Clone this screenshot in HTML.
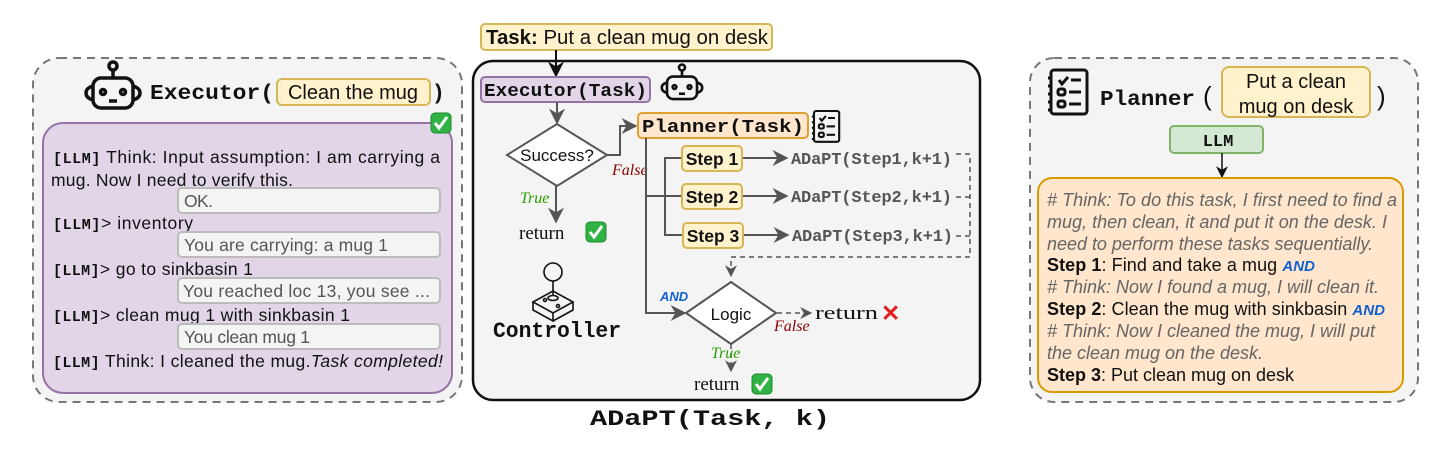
<!DOCTYPE html>
<html><head><meta charset="utf-8"><style>
html,body{margin:0;padding:0;background:#fff}
svg{display:block}
.m{font-family:"Liberation Mono",monospace;font-weight:bold}
.s{font-family:"Liberation Sans",sans-serif}
.sf{font-family:"Liberation Serif",serif}
</style></head><body>
<svg width="1456" height="454" viewBox="0 0 1456 454" xmlns="http://www.w3.org/2000/svg">
<defs>
<marker id="a" viewBox="0 0 10 10" refX="9" refY="5" markerWidth="8" markerHeight="8" orient="auto"><path d="M0,0 L10,5 L0,10 L3,5z" fill="#555"/></marker>
<marker id="ab" viewBox="0 0 10 10" refX="9" refY="5" markerWidth="8" markerHeight="8" orient="auto"><path d="M0,0 L10,5 L0,10 L3,5z" fill="#111"/></marker>
<g id="robot" fill="none" stroke="#111" stroke-width="3.5">
<circle cx="20" cy="-30" r="4"/><line x1="20" y1="-26" x2="20" y2="-18"/>
<rect x="0" y="-18" width="40" height="30" rx="8"/>
<path d="M0,-10 q-7,2 -7,7 q0,5 7,7"/><path d="M40,-10 q7,2 7,7 q0,5 -7,7"/>
<circle cx="10" cy="-4" r="2.5"/><circle cx="30" cy="-4" r="2.5"/>
<line x1="16" y1="5" x2="24" y2="5"/>
</g>
<g id="list" fill="none" stroke="#111" stroke-width="3">
<rect x="0" y="0" width="36" height="44" rx="3"/>
<path d="M8,10 l3,4 l6,-7 M20,10 h10"/>
<rect x="7" y="19" width="7" height="6" rx="2"/><line x1="18" y1="22" x2="30" y2="22"/>
<rect x="7" y="31" width="7" height="6" rx="2"/><line x1="18" y1="34" x2="30" y2="34"/>
<path d="M-3,8 h4 M-3,16 h4 M-3,24 h4 M-3,32 h4 M-3,40 h4"/>
</g>
<g id="ck"><rect x="0" y="0" width="20" height="20" rx="4" fill="#2fb344" stroke="#1d8a2f"/><path d="M4,10 l4,5 l8,-11" fill="none" stroke="#fff" stroke-width="3"/></g>
</defs>

<!-- LEFT PANEL -->
<rect x="33" y="58" width="429" height="344" rx="26" fill="#f4f4f4" stroke="#777" stroke-width="2" stroke-dasharray="8,6"/>
<use href="#robot" transform="translate(93,96)"/>
<text x="150" y="99" class="m" font-size="21" fill="#111" textLength="124" lengthAdjust="spacingAndGlyphs">Executor(</text>
<rect x="277" y="79" width="153" height="26" rx="5" fill="#fff2cc" stroke="#d6b656" stroke-width="2"/>
<text x="353" y="99" class="s" font-size="20" text-anchor="middle" fill="#111">Clean the mug</text>
<text x="432" y="99" class="m" font-size="21" fill="#111">)</text>
<rect x="43" y="123" width="409" height="270" rx="20" fill="#e1d5e7" stroke="#9673a6" stroke-width="2"/>
<use href="#ck" transform="translate(431,113)"/>
<g class="s" font-size="17.5" fill="#111" lengthAdjust="spacingAndGlyphs">
<text x="53" y="163" textLength="387"><tspan class="m" font-size="15">[LLM]</tspan> Think:  Input assumption: I am carrying a</text>
<text x="51" y="186" textLength="242">mug. Now I need to verify this.</text>
<text x="53" y="229" textLength="140"><tspan class="m" font-size="15">[LLM]</tspan>&gt; inventory</text>
<text x="53" y="275" textLength="200"><tspan class="m" font-size="15">[LLM]</tspan>&gt; go to sinkbasin 1</text>
<text x="53" y="321" textLength="297"><tspan class="m" font-size="15">[LLM]</tspan>&gt; clean mug 1 with sinkbasin 1</text>
<text x="53" y="367" textLength="390"><tspan class="m" font-size="15">[LLM]</tspan> Think: I cleaned the mug.<tspan font-style="italic">Task completed!</tspan></text>
</g>
<g fill="#f4f4f4" stroke="#bbb" stroke-width="2">
<rect x="178" y="188" width="262" height="25" rx="4"/>
<rect x="178" y="232" width="262" height="25" rx="4"/>
<rect x="178" y="278" width="262" height="25" rx="4"/>
<rect x="178" y="324" width="262" height="25" rx="4"/>
</g>
<g class="s" font-size="17.5" fill="#555" lengthAdjust="spacingAndGlyphs">
<text x="184" y="207" textLength="29">OK.</text>
<text x="184" y="251" textLength="204">You are carrying: a mug 1</text>
<text x="183" y="297" textLength="247">You reached loc 13, you see ...</text>
<text x="184" y="343" textLength="126">You clean mug 1</text>
</g>

<!-- MIDDLE -->
<rect x="473" y="61" width="507" height="339" rx="20" fill="#f4f4f4" stroke="#111" stroke-width="2.5"/>
<rect x="481" y="24" width="291" height="26" rx="4" fill="#fff2cc" stroke="#d6b656" stroke-width="2"/>
<text x="486" y="44" class="s" font-size="20" fill="#111" textLength="282" lengthAdjust="spacingAndGlyphs"><tspan font-weight="bold">Task:</tspan> Put a clean mug on desk</text>
<line x1="556" y1="50" x2="556" y2="76" stroke="#111" stroke-width="2" marker-end="url(#ab)"/>
<rect x="481" y="77" width="169" height="25" rx="4" fill="#e1d5e7" stroke="#9673a6" stroke-width="2"/>
<text x="484" y="96" class="m" font-size="18" fill="#111" textLength="163" lengthAdjust="spacingAndGlyphs">Executor(Task)</text>
<use href="#robot" transform="translate(667,90) scale(0.75)"/>
<line x1="557" y1="102" x2="557" y2="123" stroke="#555" stroke-width="2" marker-end="url(#a)"/>
<polygon points="507,155 557,124 607,155 557,186" fill="#fff" stroke="#555" stroke-width="2"/>
<text x="557" y="161" class="s" font-size="17" text-anchor="middle" fill="#111">Success?</text>
<polyline points="607,155 620,155 620,126 636,126" fill="none" stroke="#555" stroke-width="2" marker-end="url(#a)"/>
<text x="612" y="175" class="sf" font-size="16" font-style="italic" fill="#8b0000">False</text>
<text x="520" y="203" class="sf" font-size="16" font-style="italic" fill="#2a9d00">True</text>
<line x1="556" y1="186" x2="556" y2="222" stroke="#555" stroke-width="2" marker-end="url(#a)"/>
<text x="519" y="239" class="sf" font-size="19" fill="#111">return</text>
<use href="#ck" transform="translate(586,222)"/>
<rect x="638" y="113" width="170" height="25" rx="4" fill="#ffe6cc" stroke="#e0a030" stroke-width="2"/>
<text x="642" y="132" class="m" font-size="18" fill="#111" textLength="162" lengthAdjust="spacingAndGlyphs">Planner(Task)</text>
<use href="#list" transform="translate(814,111) scale(0.7)"/>
<g fill="none" stroke="#555" stroke-width="2">
<polyline points="646,138 646,313 685,313" marker-end="url(#a)"/>
<polyline points="646,196 665,196"/>
<polyline points="682,158 665,158 665,235 682,235"/>
<line x1="665" y1="196" x2="682" y2="196"/>
<line x1="742" y1="158" x2="787" y2="158" marker-end="url(#a)"/>
<line x1="742" y1="196" x2="787" y2="196" marker-end="url(#a)"/>
<line x1="743" y1="235" x2="788" y2="235" marker-end="url(#a)"/>
<g stroke-dasharray="5,4" stroke-width="1.5">
<polyline points="956,154 970,154 970,257 731,257 731,276" marker-end="url(#a)"/>
<line x1="956" y1="197" x2="970" y2="197"/>
<line x1="956" y1="236" x2="970" y2="236"/>
<line x1="777" y1="313" x2="811" y2="313" marker-end="url(#a)"/>
<line x1="731" y1="344" x2="731" y2="371" marker-end="url(#a)"/>
</g>
</g>
<g fill="#fff2cc" stroke="#d6b656" stroke-width="2">
<rect x="682" y="146" width="60" height="25" rx="4"/>
<rect x="682" y="184" width="60" height="25" rx="4"/>
<rect x="683" y="223" width="60" height="25" rx="4"/>
</g>
<g class="s" font-size="17.5" font-weight="bold" fill="#111" text-anchor="middle">
<text x="712" y="165">Step 1</text><text x="712" y="203">Step 2</text><text x="713" y="242">Step 3</text>
</g>
<g class="m" font-size="17" fill="#555" lengthAdjust="spacingAndGlyphs">
<text x="791" y="164" textLength="161">ADaPT(Step1,k+1)</text>
<text x="791" y="202" textLength="161">ADaPT(Step2,k+1)</text>
<text x="792" y="241" textLength="161">ADaPT(Step3,k+1)</text>
</g>
<polygon points="686,313 731,282 776,313 731,344" fill="#fff" stroke="#555" stroke-width="2"/>
<text x="731" y="320" class="s" font-size="17" text-anchor="middle" fill="#111">Logic</text>
<text x="660" y="301" class="s" font-size="13" font-weight="bold" font-style="italic" fill="#1060d0">AND</text>
<text x="774" y="331" class="sf" font-size="16" font-style="italic" fill="#8b0000">False</text>
<text x="711" y="358" class="sf" font-size="16" font-style="italic" fill="#2a9d00">True</text>
<text x="815" y="319" class="sf" font-size="19" fill="#111" textLength="63" lengthAdjust="spacingAndGlyphs">return</text>
<text x="881" y="321" class="s" font-size="23" font-weight="bold" fill="#e02020">✕</text>
<text x="694" y="390" class="sf" font-size="19" fill="#111">return</text>
<use href="#ck" transform="translate(752,374)"/>
<!-- joystick -->
<g fill="none" stroke="#111" stroke-width="1.6">
<circle cx="553" cy="272" r="9"/><line x1="553" y1="281" x2="553" y2="296"/>
<ellipse cx="553" cy="298" rx="5" ry="2.5"/>
<path d="M533,302 L553,291 L573,302 L553,313 Z"/><path d="M533,302 v8 l20,11 v-8 M573,302 v8 l-20,11"/>
<circle cx="545" cy="300" r="1.5"/><circle cx="558" cy="306" r="1.5"/>
</g>
<text x="493" y="337" class="m" font-size="22" fill="#111" textLength="128" lengthAdjust="spacingAndGlyphs">Controller</text>
<text x="590" y="425" class="m" font-size="22" fill="#111" textLength="240" lengthAdjust="spacingAndGlyphs">ADaPT(Task, k)</text>

<!-- RIGHT -->
<rect x="1030" y="58" width="388" height="344" rx="24" fill="#f4f4f4" stroke="#777" stroke-width="2" stroke-dasharray="8,6"/>
<use href="#list" transform="translate(1051,70)"/>
<text x="1100" y="105" class="m" font-size="21" fill="#111" textLength="95" lengthAdjust="spacingAndGlyphs">Planner</text>
<text x="1203" y="105" class="s" font-size="26" fill="#111">(</text>
<rect x="1222" y="67" width="148" height="50" rx="7" fill="#fff2cc" stroke="#d6b656" stroke-width="2"/>
<text x="1296" y="88" class="s" font-size="20" text-anchor="middle" fill="#111">Put a clean</text>
<text x="1296" y="113" class="s" font-size="20" text-anchor="middle" fill="#111">mug on desk</text>
<text x="1377" y="105" class="s" font-size="26" fill="#111">)</text>
<rect x="1170" y="126" width="93" height="27" rx="4" fill="#d5e8d4" stroke="#82b366" stroke-width="2"/>
<text x="1218" y="146" class="m" font-size="17" text-anchor="middle" fill="#111">LLM</text>
<line x1="1222" y1="153" x2="1222" y2="177" stroke="#111" stroke-width="1.5" marker-end="url(#ab)"/>
<rect x="1038" y="178" width="365" height="214" rx="14" fill="#ffe6cc" stroke="#d79b00" stroke-width="2"/>
<g class="s" font-size="18" lengthAdjust="spacingAndGlyphs">
<text x="1047" y="206" fill="#666" font-style="italic" textLength="350"># Think: To do this task, I first need to find a</text>
<text x="1047" y="228" fill="#666" font-style="italic" textLength="340">mug, then clean, it and put it on the desk. I</text>
<text x="1047" y="250" fill="#666" font-style="italic" textLength="326">need to perform these tasks sequentially.</text>
<text x="1047" y="271" fill="#111" textLength="268"><tspan font-weight="bold">Step 1</tspan>: Find and take a mug <tspan font-weight="bold" font-style="italic" fill="#1060d0" font-size="15">AND</tspan></text>
<text x="1047" y="293" fill="#666" font-style="italic" textLength="332"># Think: Now I found a mug, I will clean it.</text>
<text x="1047" y="315" fill="#111" textLength="338"><tspan font-weight="bold">Step 2</tspan>: Clean the mug with sinkbasin <tspan font-weight="bold" font-style="italic" fill="#1060d0" font-size="15">AND</tspan></text>
<text x="1047" y="337" fill="#666" font-style="italic" textLength="328"># Think: Now I cleaned the mug, I will put</text>
<text x="1047" y="359" fill="#666" font-style="italic" textLength="216">the clean mug on the desk.</text>
<text x="1047" y="381" fill="#111" textLength="247"><tspan font-weight="bold">Step 3</tspan>: Put clean mug on desk</text>
</g>
</svg>
</body></html>
